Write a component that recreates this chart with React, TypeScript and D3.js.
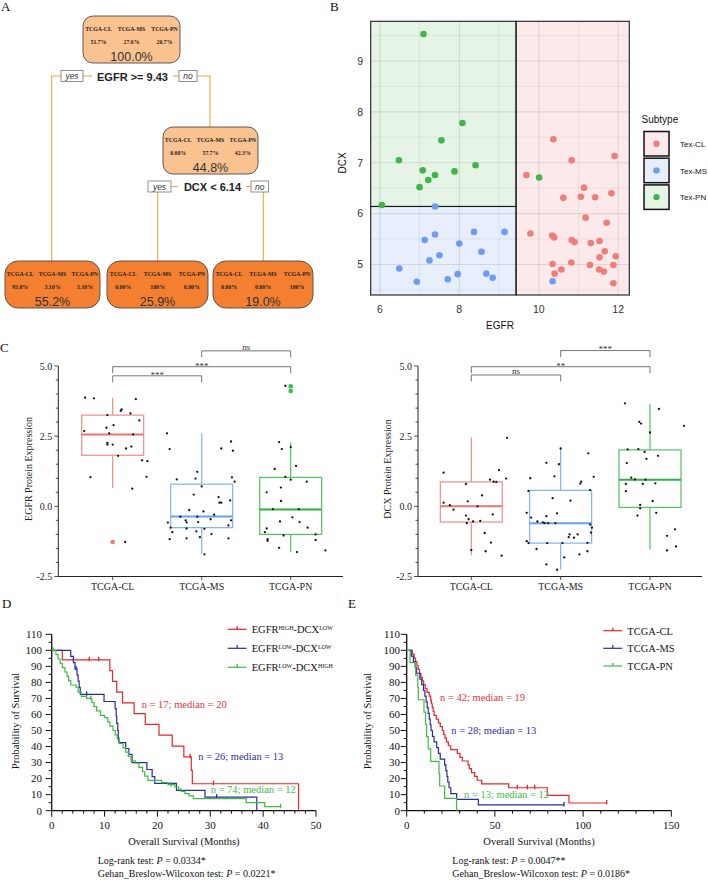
import React from "react";
import * as d3 from "d3";

const SERIF = "'Liberation Serif','Times New Roman',serif";
const SANS = "'Liberation Sans',Arial,sans-serif";

// ---------------- Panel A: decision tree ----------------
const treeClasses = ["TCGA-CL", "TCGA-MS", "TCGA-PN"];
const treeNodeProbs = [
  ["51.7%", "27.6%", "20.7%"],
  ["0.00%", "57.7%", "42.3%"],
  ["93.8%", "3.10%", "3.10%"],
  ["0.00%", "100%", "0.00%"],
  ["0.00%", "0.00%", "100%"],
];
const treeNodePct = ["100.0%", "44.8%", "55.2%", "25.9%", "19.0%"];
const treeSplits = ["EGFR >= 9.43", "DCX < 6.14"];

// ---------------- Panel B: scatter ----------------
const subtypes = ["Tex-CL", "Tex-MS", "Tex-PN"];
const egfrCut = 9.43;
const dcxCut = 6.14;
const clEGFR = [10.37, 10.83, 11.91, 9.69, 11.14, 10.62, 11.06, 11.42, 11.83, 11.18, 11.71, 9.79, 10.34, 10.39, 10.83, 10.9, 11.31, 11.53, 11.66, 11.53, 11.94, 10.35, 10.82, 11.29, 11.88, 10.57, 10.4, 11.52, 11.64, 11.88];
const clDCX = [7.46, 7.05, 7.13, 6.76, 6.51, 6.31, 6.33, 6.32, 6.4, 5.92, 5.82, 5.61, 5.57, 5.53, 5.48, 5.44, 5.42, 5.46, 5.26, 5.14, 5.16, 5.01, 5.04, 4.99, 4.99, 4.9, 4.82, 4.9, 4.86, 4.63];
const msEGFR = [7.39, 7.13, 7.39, 8.37, 9.14, 8.0, 8.56, 7.5, 7.25, 6.49, 7.96, 8.68, 8.84, 6.93, 7.71, 10.35];
const msDCX = [6.14, 5.48, 5.59, 5.64, 5.64, 5.41, 5.25, 5.18, 5.08, 4.92, 4.81, 4.82, 4.74, 4.66, 4.71, 4.67];
const pnEGFR = [7.1, 8.08, 7.55, 6.48, 8.41, 7.08, 7.88, 7.39, 7.22, 7.0, 6.05, 10.01];
const pnDCX = [9.53, 7.78, 7.44, 7.05, 6.95, 6.85, 6.83, 6.76, 6.66, 6.52, 6.17, 6.71];
const scatterXTicks = [6, 8, 10, 12];
const scatterYTicks = [5, 6, 7, 8, 9];

// ---------------- Panel C: box plots ----------------
const boxCategories = ["TCGA-CL", "TCGA-MS", "TCGA-PN"];
const boxYTicks = [-2.5, 0, 2.5, 5];
// [whiskerLow, q1, median, q3, whiskerHigh]
const egfrBoxStats = [
  [0.65, 1.82, 2.56, 3.25, 3.87],
  [-1.69, -0.76, -0.36, 0.79, 2.6],
  [-1.63, -1.0, -0.11, 1.03, 2.27],
];
const egfrOutliers = [[-1.27], [], [4.28, 4.11]];
const egfrCL = [3.87, 3.85, 3.82, 3.45, 3.4, 3.31, 3.25, 3.06, 2.89, 2.8, 2.68, 2.6, 2.56, 2.26, 2.2, 2.2, 2.06, 2.13, 1.8, 1.64, 1.61, 1.04, 1.05, 0.63, -1.27];
const egfrCLj = [-0.31, -0.21, 0.26, 0.1, 0.09, 0.2, -0.06, 0.3, 0.01, -0.07, -0.32, -0.04, 0.23, -0.06, 0.0, -0.06, 0.15, 0.21, 0.06, 0.33, 0.39, -0.25, 0.38, 0.22, 0.14];
const egfrMS = [2.6, 2.04, 2.06, 2.31, 1.98, 1.23, 0.99, 0.96, 1.03, 0.88, 0.71, 0.42, 0.33, 0.13, 0.13, 0.21, -0.13, -0.18, -0.3, -0.37, -0.37, -0.46, -0.5, -0.57, -0.56, -0.58, -0.5, -0.68, -0.76, -0.92, -0.79, -0.89, -0.8, -0.99, -1.17, -1.14, -1.1, -1.14, -1.71];
const egfrMSj = [-0.39, -0.36, 0.22, 0.33, 0.35, -0.05, -0.07, -0.28, 0.34, 0.37, 0.0, -0.09, 0.19, 0.22, 0.2, 0.32, -0.14, 0.02, 0.14, -0.24, -0.05, 0.1, -0.18, -0.17, -0.04, -0.38, 0.33, 0.3, -0.35, -0.33, -0.17, -0.06, 0.03, 0.11, -0.36, -0.17, -0.02, 0.3, 0.03];
const egfrPN = [4.29, 2.29, 2.04, 2.11, 1.44, 1.33, 1.05, 0.95, 0.88, 0.67, 0.5, 0.19, -0.1, -0.1, -0.39, -0.54, -0.56, -0.79, -0.76, -0.92, -1.04, -1.0, -1.17, -1.23, -1.2, -1.48, -1.63, -1.57];
const egfrPNj = [-0.06, -0.13, -0.1, 0.0, 0.06, -0.18, -0.06, 0.0, 0.18, -0.11, -0.27, -0.11, -0.2, 0.09, 0.02, -0.12, 0.1, -0.27, 0.19, -0.29, -0.08, 0.28, -0.26, -0.26, 0.28, -0.13, 0.07, 0.39];
const egfrBrackets = [
  { a: 0, b: 1, y: 4.65, label: "***" },
  { a: 0, b: 2, y: 4.975, label: "***" },
  { a: 1, b: 2, y: 5.54, label: "ns" },
];
const dcxBoxStats = [
  [-1.75, -0.56, 0.0, 0.87, 2.45],
  [-2.26, -1.31, -0.6, 0.57, 2.06],
  [-1.55, -0.04, 0.95, 2.01, 3.64],
];
const dcxOutliers = [[], [], []];
const dcxCL = [2.44, 1.2, 1.29, 0.95, 0.88, 0.87, 0.99, 0.8, 0.39, 0.13, 0.18, 0.04, -0.12, 0.0, -0.29, -0.33, -0.46, -0.6, -0.54, -0.52, -0.95, -1.29, -1.56, -1.6, -1.76];
const dcxCLj = [0.4, -0.31, 0.31, 0.21, 0.25, 0.28, 0.39, -0.06, 0.12, -0.31, -0.04, -0.24, -0.2, 0.07, 0.24, -0.06, -0.03, -0.05, 0.02, 0.1, 0.15, 0.22, 0.0, 0.16, 0.34];
const dcxMS = [2.06, 1.89, 1.55, 1.5, 1.05, 1.07, 1.0, 0.88, 0.81, 0.55, 0.58, 0.29, 0.2, -0.23, -0.25, -0.4, -0.35, -0.54, -0.57, -0.6, -0.6, -0.6, -0.65, -0.76, -0.94, -1.0, -1.0, -1.12, -1.1, -1.24, -1.31, -1.31, -1.31, -1.3, -1.52, -1.71, -1.6, -1.82, -2.07, -2.26];
const dcxMSj = [0.0, 0.31, -0.16, -0.02, 0.37, -0.07, -0.34, 0.23, 0.22, -0.36, 0.33, -0.09, 0.11, -0.38, -0.04, -0.33, -0.16, -0.26, -0.2, -0.14, -0.06, -0.18, 0.33, 0.35, 0.34, 0.1, 0.19, 0.15, 0.09, -0.38, -0.36, -0.15, 0.02, 0.3, -0.27, 0.21, 0.3, 0.04, -0.16, -0.04];
const dcxPN = [3.67, 3.47, 2.87, 3.01, 2.95, 2.63, 2.03, 2.04, 1.94, 1.8, 1.69, 1.54, 1.02, 0.96, 0.95, 0.8, 0.8, 0.82, 0.54, 0.19, 0.05, -0.07, -0.23, -0.33, -0.82, -1.05, -1.43, -1.57];
const dcxPNj = [-0.28, 0.1, 0.38, -0.12, -0.1, 0.0, -0.25, -0.13, -0.06, 0.09, -0.04, -0.26, -0.21, -0.17, -0.05, -0.27, -0.08, 0.06, -0.27, 0.03, -0.11, -0.11, 0.07, -0.14, 0.28, 0.19, 0.29, 0.19];
const dcxBrackets = [
  { a: 0, b: 1, y: 4.68, label: "ns" },
  { a: 0, b: 2, y: 4.975, label: "**" },
  { a: 1, b: 2, y: 5.55, label: "***" },
];

// ---------------- Panel D / E: Kaplan-Meier ----------------
const kmYTicks = [0, 10, 20, 30, 40, 50, 60, 70, 80, 90, 100, 110];
const dLegend = [["EGFR", "HIGH", "-DCX", "LOW"], ["EGFR", "LOW", "-DCX", "LOW"], ["EGFR", "LOW", "-DCX", "HIGH"]];
const dAnnot = ["n = 17; median = 20", "n = 26; median = 13", "n = 74; median = 12"];
const dTests = ["0.0334*", "0.0221*"];
const dRedT = [0, 2.0, 11.0, 11.5, 12.3, 13.4, 15.6, 17.7, 20.3, 22.8, 25.0, 26.4, 26.6, 46.7];
const dRedS = [100, 94.1, 87.4, 80.7, 74.0, 67.3, 60.5, 53.8, 47.1, 40.3, 33.6, 25.2, 16.8, 0];
const dRedCT = [7.1, 8.9, 26.2, 30.6];
const dRedCS = [94.1, 94.1, 33.6, 16.8];
const dBlueT = [0, 3.6, 4.1, 4.4, 4.8, 5.0, 5.2, 5.4, 9.9, 12.0, 12.2, 12.3, 12.5, 12.6, 12.7, 14.0, 14.6, 15.2, 18.0, 19.0, 19.5, 23.6, 29.0, 38.8];
const dBlueS = [100, 96.2, 92.3, 88.5, 84.6, 80.8, 76.9, 72.6, 68.1, 63.6, 59.0, 54.5, 50.0, 45.4, 42.5, 38.8, 35.1, 30.0, 25.7, 21.3, 17.0, 12.7, 8.5, 0];
const dBlueCT = [4.6, 6.6, 31.2];
const dBlueCS = [88.5, 72.6, 8.5];
const dGreenT = [0, 0.8, 1.2, 1.6, 2.0, 2.5, 2.9, 3.2, 3.6, 4.6, 5.0, 5.6, 6.6, 7.6, 8.0, 8.5, 9.2, 10.0, 10.6, 11.0, 11.6, 12.0, 12.4, 12.8, 13.5, 14.0, 14.5, 15.0, 15.8, 16.5, 17.2, 17.6, 18.2, 20.8, 22.0, 23.3, 24.0, 24.5, 25.2, 26.0, 26.8, 36.8, 40.3, 43.3];
const dGreenS = [100, 97.3, 94.6, 91.9, 89.2, 86.5, 83.8, 81.1, 78.4, 77, 74, 71.3, 70, 67.5, 64.9, 62.2, 59.5, 58, 55.4, 52.7, 50, 47.3, 44.6, 41.9, 39.2, 36.5, 33.8, 31.1, 29.7, 27, 24.3, 21.6, 18.9, 17.5, 16.2, 14.8, 13.4, 12.0, 10.6, 9.2, 7.5, 5.0, 2.5, 2.5];
const dGreenCT = [0.3, 7.4, 22.6, 43.3];
const dGreenCS = [100, 70, 16.2, 2.5];

const eLegend = ["TCGA-CL", "TCGA-MS", "TCGA-PN"];
const eAnnot = ["n = 42; median = 19", "n = 28; median = 13", "n = 13; median = 12"];
const eTests = ["0.0047**", "0.0186*"];
const eRedT = [0, 3.2, 4.2, 5.0, 5.8, 6.5, 7.2, 8.0, 8.8, 9.6, 10.5, 11.5, 12.8, 13.6, 14.0, 14.5, 15.0, 15.5, 16.8, 18.0, 19.0, 20.2, 21.0, 21.7, 22.5, 23.6, 25.0, 28.7, 30.2, 31.5, 34.8, 35.5, 36.7, 38.5, 40.0, 42.5, 57.8, 79.7, 92.0, 113.4];
const eRedS = [100, 97.6, 95.2, 92.9, 90.5, 88.1, 85.7, 83.3, 81.0, 78.6, 76.2, 73.8, 71.4, 69.0, 66.7, 64.3, 61.9, 59.5, 57.1, 54.8, 52.4, 50.0, 47.6, 45.2, 42.9, 40.5, 38.1, 35.7, 33.3, 31.0, 28.6, 26.2, 23.8, 21.4, 19.0, 16.7, 14.3, 9.5, 4.8, 4.8];
const eRedCT = [62.7, 68.4, 72.6, 113.4];
const eRedCS = [14.3, 14.3, 14.3, 4.8];
const eBlueT = [0, 2.6, 3.8, 4.8, 5.6, 7.5, 8.5, 9.5, 10.3, 11.0, 11.6, 12.2, 12.8, 13.3, 13.8, 14.6, 15.5, 17.0, 18.0, 19.0, 21.5, 22.2, 22.8, 23.3, 24.0, 25.0, 28.3, 40.6, 89.2];
const eBlueS = [100, 96.4, 92.9, 89.3, 85.7, 82.1, 78.6, 75.0, 71.4, 67.9, 64.3, 60.7, 57.1, 53.6, 50.0, 46.4, 42.9, 39.3, 35.7, 32.1, 28.6, 25.0, 21.4, 17.9, 14.3, 10.7, 7.1, 3.6, 3.6];
const eBlueCT = [89.2];
const eBlueCS = [3.6];
const eGreenT = [0, 1.9, 5.1, 6.3, 6.6, 9.8, 10.7, 11.3, 12.2, 13.6, 18.3, 18.7, 21.5, 28.3];
const eGreenS = [100, 92.3, 84.6, 76.9, 69.2, 61.5, 53.8, 46.2, 38.5, 30.8, 23.1, 15.4, 7.7, 0];
const eGreenCT: number[] = [];
const eGreenCS: number[] = [];

// ---------------- styles ----------------
const KM_RED = "#E6262B";
const KM_BLUE = "#2A2AA5";
const KM_GREEN = "#3EBE3E";
const TXT_RED = "#E0353A";
const TXT_BLUE = "#2E2EA0";
const TXT_GREEN = "#45BA45";

// ================= Panel A =================
function PanelA() {
  const lineC = "#F2A33A";
  const light = "#F9C28F";
  const dark = "#F47F30";
  const boxes = [
    { x: 83, y: 16, w: 97, h: 47, fill: light, rx: 10 },
    { x: 163, y: 127, w: 95, h: 47, fill: light, rx: 10 },
    { x: 5, y: 261, w: 95, h: 47, fill: dark, rx: 13 },
    { x: 107, y: 261, w: 101, h: 47, fill: dark, rx: 13 },
    { x: 213, y: 261, w: 100, h: 47, fill: dark, rx: 13 },
  ];
  const tag = (x: number, y: number, w: number, t: string) => (
    <g>
      <rect x={x} y={y} width={w} height={11} fill="#fff" stroke="#777" strokeWidth={0.8} />
      <text x={x + w / 2} y={y + 8.5} textAnchor="middle" fontFamily={SANS} fontStyle="italic" fontSize={8.5} fill="#333">{t}</text>
    </g>
  );
  return (
    <g>
      {/* connectors */}
      <g stroke={lineC} strokeWidth={1.1} fill="none">
        <path d="M61,76 H51.7 V261" />
        <path d="M83,76 H92" />
        <path d="M173,76 H179" />
        <path d="M197,76 H210 V127" />
        <path d="M171,186.5 H178" />
        <path d="M246,186.5 H251" />
        <path d="M157.7,192 V261" />
        <path d="M263.3,192 V261" />
      </g>
      {boxes.map((b, i) => {
        const cx = b.x + b.w / 2;
        const off = b.w * 0.34;
        return (
          <g key={i}>
            <rect x={b.x} y={b.y} width={b.w} height={b.h} rx={b.rx} fill={b.fill} stroke="#4a4a4a" strokeWidth={0.9} />
            {treeClasses.map((c, j) => (
              <text key={c} x={cx + (j - 1) * off} y={b.y + 14.5} textAnchor="middle" fontFamily={SERIF} fontWeight="bold" fontSize={5.8} fill="#222">{c}</text>
            ))}
            {treeNodeProbs[i].map((p, j) => (
              <text key={j} x={cx + (j - 1) * off} y={b.y + 28} textAnchor="middle" fontFamily={SERIF} fontWeight="bold" fontSize={5.8} fill="#222">{p}</text>
            ))}
            <text x={cx} y={b.y + 45} textAnchor="middle" fontFamily={SANS} fontSize={12.5} fill="#333">{treeNodePct[i]}</text>
          </g>
        );
      })}
      {tag(61, 70.5, 22, "yes")}
      {tag(179, 70.5, 18, "no")}
      <text x={132.5} y={80.5} textAnchor="middle" fontFamily={SANS} fontWeight="bold" fontSize={11} fill="#222">{treeSplits[0]}</text>
      {tag(148, 181, 23, "yes")}
      {tag(251, 181, 17.5, "no")}
      <text x={212.5} y={191} textAnchor="middle" fontFamily={SANS} fontWeight="bold" fontSize={11} fill="#222">{treeSplits[1]}</text>
    </g>
  );
}

// ================= Panel B =================
function PanelB() {
  const x = d3.scaleLinear().domain([5.77, 12.28]).range([370.7, 629.3]);
  const y = d3.scaleLinear().domain([4.4, 9.78]).range([295, 21.3]);
  const [x0, x1] = x.domain();
  const [y0, y1] = y.domain();
  const regionFill = ["#FCEAEA", "#E7EFFC", "#E5F4E5"];
  const pointCol = ["#EF7E78", "#6E9BF4", "#3EB64C"];
  const regions = [
    { xa: egfrCut, xb: x1, ya: y0, yb: y1, k: 0 },
    { xa: x0, xb: egfrCut, ya: y0, yb: dcxCut, k: 1 },
    { xa: x0, xb: egfrCut, ya: dcxCut, yb: y1, k: 2 },
  ];
  const vGrid = d3.range(6, 13, 1);
  const hGrid = d3.range(4.5, 9.75, 0.5);
  const sets = [
    { xs: clEGFR, ys: clDCX, k: 0 },
    { xs: msEGFR, ys: msDCX, k: 1 },
    { xs: pnEGFR, ys: pnDCX, k: 2 },
  ];
  return (
    <g>
      {regions.map((r, i) => (
        <rect key={i} x={x(r.xa)} y={y(r.yb)} width={x(r.xb) - x(r.xa)} height={y(r.ya) - y(r.yb)} fill={regionFill[r.k]} />
      ))}
      {vGrid.map((v) => (
        <line key={"v" + v} x1={x(v)} x2={x(v)} y1={y(y0)} y2={y(y1)} stroke="#A0A0A0" strokeOpacity={v % 2 === 0 ? 0.3 : 0.22} strokeWidth={v % 2 === 0 ? 1.1 : 0.7} />
      ))}
      {hGrid.map((v) => (
        <line key={"h" + v} x1={x(x0)} x2={x(x1)} y1={y(v)} y2={y(v)} stroke="#A0A0A0" strokeOpacity={Number.isInteger(v) ? 0.3 : 0.22} strokeWidth={Number.isInteger(v) ? 1.1 : 0.7} />
      ))}
      {regions.map((r, i) => (
        <rect key={"b" + i} x={x(r.xa)} y={y(r.yb)} width={x(r.xb) - x(r.xa)} height={y(r.ya) - y(r.yb)} fill="none" stroke="#1a1a1a" strokeWidth={1.1} />
      ))}
      {sets.map((s) =>
        s.xs.map((v, i) => (
          <circle key={s.k + "-" + i} cx={x(v)} cy={y(s.ys[i])} r={3.3} fill={pointCol[s.k]} />
        ))
      )}
      {scatterXTicks.map((t) => (
        <text key={t} x={x(t)} y={313} textAnchor="middle" fontFamily={SANS} fontSize={10.5} fill="#333">{t}</text>
      ))}
      {scatterYTicks.map((t) => (
        <text key={t} x={363} y={y(t) + 3.8} textAnchor="end" fontFamily={SANS} fontSize={10.5} fill="#333">{t}</text>
      ))}
      <text x={500} y={329} textAnchor="middle" fontFamily={SANS} fontSize={10} fill="#111">EGFR</text>
      <text transform="translate(345.5,163) rotate(-90)" textAnchor="middle" fontFamily={SANS} fontSize={10} fill="#111">DCX</text>
      <text x={641.5} y={123} fontFamily={SANS} fontSize={10} fill="#111">Subtype</text>
      {subtypes.map((s, i) => {
        const ky = 131.5 + i * 26.7;
        return (
          <g key={s}>
            <rect x={644} y={ky} width={25} height={24.5} fill={regionFill[i]} stroke="#111" strokeWidth={1.5} />
            <circle cx={656.5} cy={ky + 12.2} r={3.2} fill={pointCol[i]} />
            <text x={680} y={ky + 15.5} fontFamily={SANS} fontSize={8} fill="#111">{s}</text>
          </g>
        );
      })}
    </g>
  );
}

// ================= Panel C =================
function BoxPanel(props: {
  axisX: number; c0: number; c2: number; axisEnd: number; stats: number[][]; outliers: number[][];
  vals: number[][]; jit: number[][]; brackets: { a: number; b: number; y: number; label: string }[];
  ylabel: string; labelX: number;
}) {
  const { axisX, c0, c2, axisEnd, stats, outliers, vals, jit, brackets, ylabel, labelX } = props;
  const y = d3.scaleLinear().domain([-2.5, 5]).range([576.5, 366]);
  const x = d3.scalePoint<string>().domain(boxCategories).range([c0, c2]);
  const step = x.step();
  const half = 31;
  const boxCol = ["#EF8C88", "#82B1F2", "#4FC35F"];
  const medCol = ["#EA746F", "#6A9FEC", "#2DB048"];
  const outCol = ["#F37A78", "#6E9BF4", "#2DC245"];
  const minor = d3.range(-2.5, 5.01, 0.5);
  return (
    <g>
      {/* axes */}
      <line x1={axisX} x2={axisX} y1={y(5)} y2={y(-2.5)} stroke="#222" strokeWidth={1} />
      <line x1={axisX} x2={axisEnd} y1={y(-2.5)} y2={y(-2.5)} stroke="#222" strokeWidth={1} />
      {minor.map((m) => {
        const major = boxYTicks.some((t) => Math.abs(t - m) < 1e-6);
        return <line key={m} x1={axisX - (major ? 4 : 2.5)} x2={axisX} y1={y(m)} y2={y(m)} stroke="#222" strokeWidth={0.8} />;
      })}
      {boxYTicks.map((t) => (
        <text key={t} x={axisX - 6} y={y(t) + 3.5} textAnchor="end" fontFamily={SERIF} fontSize={10} fill="#222">{t.toFixed(1)}</text>
      ))}
      {boxCategories.map((c) => (
        <g key={c}>
          <line x1={x(c)} x2={x(c)} y1={y(-2.5)} y2={y(-2.5) + 3.5} stroke="#222" strokeWidth={0.8} />
          <text x={x(c)} y={590} textAnchor="middle" fontFamily={SERIF} fontSize={10} fill="#222">{c}</text>
        </g>
      ))}
      <text transform={`translate(${labelX},469) rotate(-90)`} textAnchor="middle" fontFamily={SERIF} fontSize={10} fill="#222">{ylabel}</text>
      {/* boxes */}
      {boxCategories.map((c, i) => {
        const cx = x(c) as number;
        const [wl, q1, md, q3, wh] = stats[i];
        return (
          <g key={c}>
            <line x1={cx} x2={cx} y1={y(q3)} y2={y(wh)} stroke={boxCol[i]} strokeWidth={1.2} />
            <line x1={cx} x2={cx} y1={y(q1)} y2={y(wl)} stroke={boxCol[i]} strokeWidth={1.2} />
            <rect x={cx - half} y={y(q3)} width={half * 2} height={y(q1) - y(q3)} fill="none" stroke={boxCol[i]} strokeWidth={1.2} />
            <line x1={cx - half} x2={cx + half} y1={y(md)} y2={y(md)} stroke={medCol[i]} strokeWidth={2} />
            {outliers[i].map((o, k) => (
              <circle key={k} cx={cx} cy={y(o)} r={2.3} fill={outCol[i]} />
            ))}
          </g>
        );
      })}
      {/* jitter */}
      {boxCategories.map((c, i) =>
        vals[i].map((v, k) => (
          <circle key={c + k} cx={(x(c) as number) + jit[i][k] * step * 0.5 * 2} cy={y(v)} r={1.15} fill="#111" />
        ))
      )}
      {/* brackets */}
      {brackets.map((b, i) => {
        const xa = x(boxCategories[b.a]) as number;
        const xb = x(boxCategories[b.b]) as number;
        const yy = y(b.y);
        const ast = b.label !== "ns";
        return (
          <g key={i}>
            <path d={`M${xa},${yy + 6.5} V${yy} H${xb} V${yy + 6.5}`} fill="none" stroke="#666" strokeWidth={0.9} />
            <text x={(xa + xb) / 2} y={ast ? yy + 1.8 : yy - 1} textAnchor="middle" fontFamily={SERIF} fontSize={ast ? 9 : 9} fill="#333">{b.label}</text>
          </g>
        );
      })}
    </g>
  );
}

// ================= Panels D / E =================
type Curve = { t: number[]; s: number[]; ct: number[]; cs: number[]; color: string };
function KMPanel(props: {
  x0: number; x1: number; xmax: number; major: number; minor: number; curves: Curve[];
  legend: React.ReactNode[]; legX: number; legY: number[]; annot: string[]; annotPos: number[][];
  annotCol: string[]; tests: string[]; testX: number; ylabelX: number; yTickEnd: number;
}) {
  const p = props;
  const x = d3.scaleLinear().domain([0, p.xmax]).range([p.x0, p.x1]);
  const y = d3.scaleLinear().domain([0, 110]).range([810.7, 634.3]);
  const line = d3.line<[number, number]>().curve(d3.curveStepAfter).x((d) => x(d[0])).y((d) => y(d[1]));
  const xMajor = d3.range(0, p.xmax + 0.01, p.major);
  const xMinor = d3.range(0, p.xmax + 0.01, p.minor);
  const yMinor = d3.range(0, 110.01, 5);
  return (
    <g>
      <line x1={x(0)} x2={x(0)} y1={y(110)} y2={y(0)} stroke="#111" strokeWidth={1.3} />
      <line x1={x(0)} x2={x(p.xmax)} y1={y(0)} y2={y(0)} stroke="#111" strokeWidth={1.3} />
      {yMinor.map((v) => {
        const mj = v % 10 === 0;
        return <line key={v} x1={x(0) - (mj ? 6 : 3)} x2={x(0)} y1={y(v)} y2={y(v)} stroke="#111" strokeWidth={1} />;
      })}
      {kmYTicks.map((v) => (
        <text key={v} x={p.yTickEnd} y={y(v) + 3.8} textAnchor="end" fontFamily={SERIF} fontSize={11} fill="#111">{v}</text>
      ))}
      {xMinor.map((v) => {
        const mj = Math.abs(v / p.major - Math.round(v / p.major)) < 1e-6;
        return <line key={v} x1={x(v)} x2={x(v)} y1={y(0)} y2={y(0) + (mj ? 6 : 3)} stroke="#111" strokeWidth={1} />;
      })}
      {xMajor.map((v) => (
        <text key={v} x={x(v)} y={829} textAnchor="middle" fontFamily={SERIF} fontSize={11} fill="#111">{v}</text>
      ))}
      <text x={(x(0) + x(p.xmax)) / 2} y={845} textAnchor="middle" fontFamily={SERIF} fontSize={10.5} fill="#111">Overall Survival (Months)</text>
      <text transform={`translate(${p.ylabelX},721) rotate(-90)`} textAnchor="middle" fontFamily={SERIF} fontSize={10.5} fill="#111">Probability of Survival</text>
      {p.curves.map((c, i) => (
        <g key={i}>
          <path d={line(c.t.map((t, k) => [t, c.s[k]] as [number, number])) || ""} fill="none" stroke={c.color} strokeWidth={1.2} />
          {c.ct.map((t, k) => (
            <line key={k} x1={x(t)} x2={x(t)} y1={y(c.cs[k]) - 3} y2={y(c.cs[k]) + 1.5} stroke={c.color} strokeWidth={1.3} />
          ))}
        </g>
      ))}
      {p.legend.map((l, i) => (
        <g key={i}>
          <line x1={p.legX} x2={p.legX + 19} y1={p.legY[i]} y2={p.legY[i]} stroke={p.curves[i].color} strokeWidth={1.2} />
          <line x1={p.legX + 9.5} x2={p.legX + 9.5} y1={p.legY[i] - 3} y2={p.legY[i]} stroke={p.curves[i].color} strokeWidth={1.3} />
          <text x={p.legX + 24} y={p.legY[i] + 4} fontFamily={SERIF} fontSize={10.5} fill="#111">{l}</text>
        </g>
      ))}
      {p.annot.map((a, i) => (
        <text key={i} x={p.annotPos[i][0]} y={p.annotPos[i][1]} fontFamily={SERIF} fontSize={10.5} fill={p.annotCol[i]}>{a}</text>
      ))}
      <text x={p.testX} y={863.5} fontFamily={SERIF} fontSize={10} fill="#111">Log-rank test: <tspan fontStyle="italic">P</tspan> = {p.tests[0]}</text>
      <text x={p.testX} y={877} fontFamily={SERIF} fontSize={10} fill="#111">Gehan_Breslow-Wilcoxon test: <tspan fontStyle="italic">P</tspan> = {p.tests[1]}</text>
    </g>
  );
}

function supLabel(parts: string[]) {
  return (
    <>
      <tspan>{parts[0]}</tspan>
      <tspan fontSize={6} dy={-3.5}>{parts[1]}</tspan>
      <tspan dy={3.5}>{parts[2]}</tspan>
      <tspan fontSize={6} dy={-3.5}>{parts[3]}</tspan>
    </>
  );
}

export default function App() {
  const dCurves: Curve[] = [
    { t: dRedT, s: dRedS, ct: dRedCT, cs: dRedCS, color: KM_RED },
    { t: dBlueT, s: dBlueS, ct: dBlueCT, cs: dBlueCS, color: KM_BLUE },
    { t: dGreenT, s: dGreenS, ct: dGreenCT, cs: dGreenCS, color: KM_GREEN },
  ];
  const eCurves: Curve[] = [
    { t: eRedT, s: eRedS, ct: eRedCT, cs: eRedCS, color: KM_RED },
    { t: eBlueT, s: eBlueS, ct: eBlueCT, cs: eBlueCS, color: KM_BLUE },
    { t: eGreenT, s: eGreenS, ct: eGreenCT, cs: eGreenCS, color: KM_GREEN },
  ];
  const letter = (t: string, x: number, y: number) => (
    <text x={x} y={y} fontFamily={SERIF} fontSize={13} fill="#111">{t}</text>
  );
  return (
    <svg width={708} height={880} style={{ position: "absolute", left: 0, top: 0, background: "#fff" }}>
      <rect width={708} height={880} fill="#fff" />
      {letter("A", 1, 11)}
      {letter("B", 330, 11)}
      {letter("C", 0, 352)}
      {letter("D", 2, 608)}
      {letter("E", 348, 608)}
      <PanelA />
      <PanelB />
      <BoxPanel axisX={58.3} c0={112.7} c2={290.7} axisEnd={343} stats={egfrBoxStats} outliers={egfrOutliers}
        vals={[egfrCL, egfrMS, egfrPN]} jit={[egfrCLj, egfrMSj, egfrPNj]} brackets={egfrBrackets}
        ylabel="EGFR Protein Expression" labelX={32} />
      <BoxPanel axisX={418} c0={471.3} c2={650} axisEnd={702} stats={dcxBoxStats} outliers={dcxOutliers}
        vals={[dcxCL, dcxMS, dcxPN]} jit={[dcxCLj, dcxMSj, dcxPNj]} brackets={dcxBrackets}
        ylabel="DCX Protein Expression" labelX={390.5} />
      <KMPanel x0={51.7} x1={316} xmax={50} major={10} minor={2} curves={dCurves}
        legend={dLegend.map((l) => supLabel(l))} legX={227.7} legY={[629.3, 648.3, 667.3]}
        annot={dAnnot} annotPos={[[141.7, 708.3], [198.3, 760], [210.7, 793.3]]}
        annotCol={[TXT_RED, TXT_BLUE, TXT_GREEN]} tests={dTests} testX={97.7} ylabelX={18.5} yTickEnd={42} />
      <KMPanel x0={406.7} x1={671.3} xmax={150} major={50} minor={10} curves={eCurves}
        legend={eLegend.map((l) => l)} legX={603.3} legY={[630.7, 648.3, 666]}
        annot={eAnnot} annotPos={[[440, 700.5], [451.3, 733.5], [464, 797.5]]}
        annotCol={[TXT_RED, TXT_BLUE, TXT_GREEN]} tests={eTests} testX={452.3} ylabelX={370.5} yTickEnd={400} />
    </svg>
  );
}
